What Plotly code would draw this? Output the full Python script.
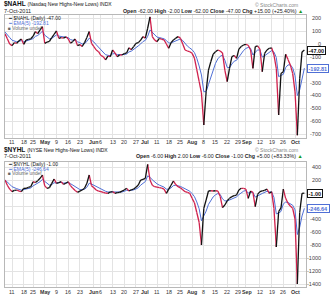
import pandas as pd
import plotly.graph_objects as go

# ---------------- data ----------------
holidays = ["2011-04-22", "2011-05-30", "2011-07-04", "2011-09-05"]
dates = [d.strftime("%Y-%m-%d") for d in pd.bdate_range("2011-04-06", "2011-10-07")
         if d.strftime("%Y-%m-%d") not in holidays]

tick_dates = ["2011-04-11", "2011-04-18", "2011-04-25", "2011-05-02", "2011-05-09", "2011-05-16",
              "2011-05-23", "2011-06-01", "2011-06-06", "2011-06-13", "2011-06-20", "2011-06-27",
              "2011-07-01", "2011-07-11", "2011-07-18", "2011-07-25", "2011-08-01", "2011-08-08",
              "2011-08-15", "2011-08-22", "2011-08-29", "2011-09-01", "2011-09-12", "2011-09-19",
              "2011-09-26", "2011-10-03"]
tick_text = ["11", "18", "25", "<b>May</b>", "9", "16", "23", "<b>Jun</b>", "6", "13", "20", "27",
             "<b>Jul</b>", "11", "18", "25", "<b>Aug</b>", "8", "15", "22", "29", "<b>Sep</b>",
             "12", "19", "26", "<b>Oct</b>"]

nahl_daily = [80, 40, 0, -13, 10, 5, 25, 39, -3, 30,
              35, 40, 60, 96, 80, 110, 135, 5, 15, 20,
              50, 75, 101, 44, 50, 45, 55, 40, 5, 20,
              39, -13, -5, -20, 10, 50, 96, 5, -20, -47,
              -60, -90, -99, -124, -95, -99, -47, -70, -99, -85,
              -86, -75, -70, -29, -45, -20, 5, 10, 30, 57,
              45, 122, 210, 57, 30, 18, 44, 35, 31, 0,
              -34, 10, 31, 45, 57, 45, 0, -47, -55, -60,
              -73, -110, -200, -290, -380, -630, -370, -203, -138, -80,
              -60, -47, -55, -70, -203, -293, -190, -99, -90, -112,
              -40, -20, -8, -3, -10, -47, -190, -21, -15, -40,
              -216, -73, -47, -34, -30, -86, -190, -552, -229, -216,
              -80, -120, -163, -229, -370, -710, -270, -62, -47]
nahl_ema = [93, 75, 50, 29, 23, 17, 20, 26, 16, 21,
            26, 31, 41, 59, 66, 81, 99, 68, 50, 40,
            43, 54, 70, 61, 57, 53, 54, 49, 34, 29,
            32, 17, 10, 0, 3, 19, 45, 32, 15, -6,
            -24, -46, -64, -84, -88, -92, -77, -75, -83, -84,
            -85, -82, -78, -62, -56, -44, -28, -15, 0, 19,
            28, 59, 109, 92, 71, 53, 50, 45, 40, 27,
            7, 8, 16, 26, 36, 39, 26, 2, -17, -31,
            -45, -67, -111, -171, -241, -371, -371, -315, -256, -197,
            -151, -116, -96, -87, -126, -182, -185, -156, -134, -127,
            -98, -72, -51, -35, -27, -34, -86, -64, -48, -45,
            -102, -92, -77, -63, -52, -63, -105, -254, -246, -236,
            -184, -163, -163, -185, -247, -401, -357, -259, -188]

nyhl_daily = [200, 120, 60, 21, 40, 46, 30, 21, 72, 72,
              85, 97, 174, 160, 190, 226, 277, 110, 72, 82,
              149, 215, 149, 160, 174, 133, 150, 174, 113, 72,
              40, 10, 30, 46, 72, 149, 277, 113, 80, 46,
              30, 20, 10, 0, -5, 15, 21, -5, 5, 10,
              30, 46, 72, 31, 50, 61, 90, 123, 200, 210,
              226, 440, 200, 120, 97, 90, 82, 75, 60, -5,
              60, 120, 185, 130, 97, 80, 50, 21, 10, -5,
              -82, -150, -300, -450, -800, -236, -108, 31, 35, 31,
              35, 31, -50, -225, -185, -120, -82, -56, -40, -31,
              46, 72, 70, 61, -82, 31, 10, -210, -20, 21,
              31, 40, 61, -5, 20, -236, -830, -287, -230, 61,
              -82, -159, -200, -236, -400, -1400, -300, -6, -1]
nyhl_ema = [200, 173, 135, 97, 78, 67, 55, 44, 53, 59,
            68, 78, 110, 127, 148, 174, 208, 175, 141, 121,
            130, 158, 155, 157, 163, 153, 152, 159, 144, 120,
            93, 65, 53, 51, 58, 88, 151, 138, 119, 95,
            73, 55, 40, 27, 16, 16, 18, 10, 8, 9,
            16, 26, 41, 38, 42, 48, 62, 82, 121, 151,
            176, 264, 243, 202, 167, 141, 121, 106, 91, 59,
            59, 79, 114, 119, 112, 101, 84, 63, 45, 28,
            -9, -56, -137, -241, -427, -363, -278, -175, -105, -60,
            -28, -8, -22, -90, -122, -121, -108, -91, -74, -60,
            -25, 7, 28, 39, -1, 10, 10, -63, -49, -26,
            -7, 9, 26, 16, 17, -67, -321, -310, -283, -168,
            -139, -146, -164, -188, -259, -639, -526, -353, -236]

nahl_yticks = [200, 100, 0, -100, -200, -300, -400, -500, -600, -700]
nyhl_yticks = [400, 200, 0, -200, -400, -600, -800, -1000, -1200, -1400]

# ---------------- styling ----------------
FONT = "Liberation Sans, Arial, sans-serif"
RED = "#d0204c"
BLACK = "#111111"
BLUE = "#4f6fd6"
GRID = "#e3e3e3"
FRAME = "#b8b8b8"
W, H = 330, 300

xpos = list(range(len(dates)))
tickvals = [dates.index(d) for d in tick_dates]


def split_up_down(vals):
    ux, uy, dx, dy = [], [], [], []
    for i in range(len(vals) - 1):
        if vals[i + 1] >= vals[i]:
            ux += [xpos[i], xpos[i + 1], None]
            uy += [vals[i], vals[i + 1], None]
        else:
            dx += [xpos[i], xpos[i + 1], None]
            dy += [vals[i], vals[i + 1], None]
    return ux, uy, dx, dy


fig = go.Figure()
for daily, ema, xa, ya in [(nahl_daily, nahl_ema, "x", "y"), (nyhl_daily, nyhl_ema, "x2", "y2")]:
    fig.add_trace(go.Scatter(x=xpos, y=ema, mode="lines", line=dict(color=BLUE, width=1),
                             xaxis=xa, yaxis=ya, hoverinfo="skip"))
    ux, uy, dx, dy = split_up_down(daily)
    fig.add_trace(go.Scatter(x=dx, y=dy, mode="lines", line=dict(color=RED, width=1.3),
                             xaxis=xa, yaxis=ya, hoverinfo="skip"))
    fig.add_trace(go.Scatter(x=ux, y=uy, mode="lines", line=dict(color=BLACK, width=1.3),
                             xaxis=xa, yaxis=ya, hoverinfo="skip"))

xdom = [5 / W, 306 / W]
xcommon = dict(domain=xdom, range=[0, 128.7], tickmode="array", tickvals=tickvals,
               showticklabels=False, showgrid=True, gridcolor=GRID,
               gridwidth=1, zeroline=False, showline=True, linecolor=FRAME, linewidth=1, mirror=True,
               ticks="", fixedrange=True)


def ycommon(dom, rng, ticks):
    return dict(domain=dom, range=rng, side="right", tickmode="array", tickvals=ticks,
                showticklabels=False, showgrid=True, gridcolor=GRID, gridwidth=1, zeroline=False,
                showline=True, linecolor=FRAME, linewidth=1, mirror=True, ticks="", fixedrange=True)


def py(p):
    return 1 - p / H


fig.update_layout(
    width=W, height=H, margin=dict(l=0, r=0, t=0, b=0),
    paper_bgcolor="white", plot_bgcolor="white", showlegend=False,
    font=dict(family=FONT, size=6, color="#222"),
    xaxis=dict(**xcommon, anchor="y"),
    yaxis=dict(**ycommon([py(138), py(15)], [-731, 225], nahl_yticks), anchor="x"),
    xaxis2=dict(**xcommon, anchor="y2"),
    yaxis2=dict(**ycommon([py(287), py(162)], [-1446, 477], nyhl_yticks), anchor="x2"),
)

ann = []
# x tick labels (positioned through the x axes' own scale); "29" and "Sep" nudged apart a little
nudge = {"29": -1.0, "<b>Sep</b>": 1.5}
for xref, ylab in [("x", 142), ("x2", 291.5)]:
    for tv, tt in zip(tickvals, tick_text):
        ann.append(dict(x=tv, xref=xref, xanchor="center", y=py(ylab), yref="paper", yanchor="middle",
                        text=tt, showarrow=False, xshift=nudge.get(tt, 0) if tv >= 100 else 0,
                        font=dict(size=5.3, color="#333")))

# y tick labels, right aligned; skip those hidden behind the last-value boxes
last_vals = {"y": [nahl_daily[-1], nahl_ema[-1]], "y2": [nyhl_daily[-1], nyhl_ema[-1]]}
scale = {"y": 124 / (225 + 731), "y2": 125 / (477 + 1446)}
for ticks, yref in [(nahl_yticks, "y"), (nyhl_yticks, "y2")]:
    for v in ticks:
        if any(abs(v - lv) * scale[yref] < 5.5 for lv in last_vals[yref]):
            continue
        ann.append(dict(x=323 / W, xref="paper", xanchor="right", y=v, yref=yref, yanchor="middle",
                        text=str(v), showarrow=False, font=dict(size=5.5, color="#444")))


def header(top, sym, name, ohlc, legend_daily, legend_ema):
    items = []
    items.append(dict(x=2 / W, y=py(top), xanchor="left", yanchor="middle",
                      text=f"<b>{sym}</b> <span style='font-size:5px'>{name}</span>",
                      font=dict(size=6.5, color="#111")))
    items.append(dict(x=2 / W, y=py(top + 6.5), xanchor="left", yanchor="middle",
                      text="7-Oct-2011", font=dict(size=5.5, color="#222")))
    items.append(dict(x=300 / W, y=py(top + 0.5), xanchor="right", yanchor="middle",
                      text="© StockCharts.com", font=dict(size=5, color="#888")))
    items.append(dict(x=305 / W, y=py(top + 7), xanchor="right", yanchor="middle",
                      text=ohlc + " <span style='color:#1a9a1a'>▲</span>",
                      font=dict(size=5.3, color="#222")))
    items.append(dict(x=6 / W, y=py(top + 14), xanchor="left", yanchor="middle",
                      text=f"<span style='color:{BLACK}'>━</span> {legend_daily}",
                      font=dict(size=5, color="#222")))
    items.append(dict(x=6 / W, y=py(top + 19), xanchor="left", yanchor="middle",
                      text=f"━ {legend_ema}", font=dict(size=5, color=BLUE)))
    items.append(dict(x=6 / W, y=py(top + 24.2), xanchor="left", yanchor="middle",
                      text="■ Volume undef", font=dict(size=4.8, color="#666")))
    for it in items:
        it.update(xref="paper", yref="paper", showarrow=False)
    return items


ann += header(4, "$NAHL", "(Nasdaq New Highs-New Lows) INDX",
              "<b>Open</b> -62.00 <b>High</b> -2.00 <b>Low</b> -62.00 <b>Close</b> -47.00 <b>Chg</b> +15.00 (+25.40%)",
              "$NAHL (Daily) -47.00", "EMA(5) -192.81")
ann += header(149.5, "$NYHL", "(NYSE New Highs-New Lows) INDX",
              "<b>Open</b> -6.00 <b>High</b> 2.00 <b>Low</b> -6.00 <b>Close</b> -1.00 <b>Chg</b> +5.00 (+83.33%)",
              "$NYHL (Daily) -1.00", "EMA(5) -246.64")

for val, txt, col, yref in [(nahl_daily[-1], "-47.00", BLACK, "y"), (nahl_ema[-1], "-192.81", BLUE, "y"),
                            (nyhl_daily[-1], "-1.00", BLACK, "y2"), (nyhl_ema[-1], "-246.64", BLUE, "y2")]:
    ann.append(dict(x=307 / W, xref="paper", xanchor="left", y=val, yref=yref, yanchor="middle",
                    text=f"<b>{txt}</b>", showarrow=False, font=dict(size=5.5, color=col),
                    bgcolor="white", bordercolor=col, borderwidth=1, borderpad=0.5))

fig.update_layout(annotations=ann)
fig.write_html("out.html")
